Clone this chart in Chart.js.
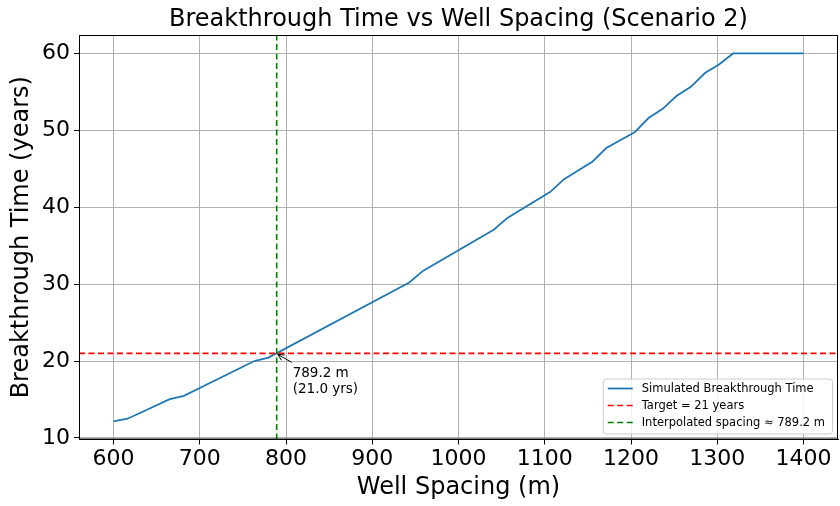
<!DOCTYPE html>
<html>
<head>
<meta charset="utf-8">
<script src="https://cdn.jsdelivr.net/npm/chart.js@4/dist/chart.umd.min.js"></script>
<style>
  html, body { margin: 0; padding: 0; background: #fff; }
  #wrap { width: 840px; height: 506px; }
</style>
</head>
<body>
<div id="wrap"><canvas id="btChart" width="840" height="506"></canvas></div>
<script>
// Simulated breakthrough time vs well spacing (points where the curve changes slope)
const spacing = [600, 616.3, 665.3, 681.6, 763.3, 779.6, 942.9, 959.2, 1040.8, 1057.1,
                 1106.1, 1122.4, 1155.1, 1171.4, 1204.1, 1220.4, 1236.7, 1253.1, 1269.4,
                 1285.7, 1302.0, 1318.4, 1400];
const breakthrough = [12.15, 12.5, 15.05, 15.47, 20.0, 20.45, 30.22, 31.76, 37.08, 38.65,
                      41.97, 43.65, 45.9, 47.7, 49.75, 51.6, 52.8, 54.5, 55.66,
                      57.45, 58.57, 60, 60];

const targetYears = 21;
const interpSpacing = 789.2;
const interpYears = 21.0;

const xTicks = [600, 700, 800, 900, 1000, 1100, 1200, 1300, 1400];
const yTicks = [10, 20, 30, 40, 50, 60];
const xRange = [560, 1440];
const yRange = [9.8, 62.4];

const seriesLabels = ['Simulated Breakthrough Time', 'Target = 21 years', 'Interpolated spacing \u2248 789.2 m'];
const FONT = "'DejaVu Sans', sans-serif";

const curve = spacing.map((s, i) => ({ x: s, y: breakthrough[i] }));

// title, frame, annotation and legend drawn on top of the chart
const decorations = {
    id: 'decorations',
    afterDraw(chart) {
        const ctx = chart.ctx;
        const area = chart.chartArea;
        const xs = chart.scales.x, ys = chart.scales.y;
        ctx.save();

        // frame
        ctx.strokeStyle = '#000';
        ctx.lineWidth = 1;
        ctx.strokeRect(area.left + 0.5, area.top + 0.5, area.right - area.left - 1, area.bottom - area.top - 1);

        // title
        ctx.fillStyle = '#000';
        ctx.font = '24px ' + FONT;
        ctx.textAlign = 'center';
        ctx.textBaseline = 'middle';
        ctx.fillText('Breakthrough Time vs Well Spacing (Scenario 2)', (area.left + area.right) / 2, 20);

        // annotation with arrow
        const px = xs.getPixelForValue(interpSpacing);
        const py = ys.getPixelForValue(interpYears);
        const tx = px + 16, ty = py + 9;
        ctx.strokeStyle = '#000';
        ctx.lineWidth = 1;
        ctx.beginPath();
        ctx.moveTo(tx - 1, ty);
        ctx.lineTo(px + 1, py + 1);
        ctx.stroke();
        const ang = Math.atan2(ty - py, tx - 1 - px);
        ctx.beginPath();
        ctx.moveTo(px + 1 + 7 * Math.cos(ang + 0.45), py + 1 + 7 * Math.sin(ang + 0.45));
        ctx.lineTo(px + 1, py + 1);
        ctx.lineTo(px + 1 + 7 * Math.cos(ang - 0.45), py + 1 + 7 * Math.sin(ang - 0.45));
        ctx.stroke();
        ctx.font = '13.5px ' + FONT;
        ctx.textAlign = 'left';
        ctx.textBaseline = 'alphabetic';
        ctx.fillText(interpSpacing.toFixed(1) + ' m', tx, ty + 15);
        ctx.fillText('(' + interpYears.toFixed(1) + ' yrs)', tx, ty + 31);

        // legend
        ctx.font = '11.5px ' + FONT;
        const textW = Math.max(...seriesLabels.map(t => ctx.measureText(t).width));
        const boxW = 5 + 25 + 9 + textW + 7;
        const boxH = 55;
        const bx = area.right - 6 - boxW;
        const by = area.bottom - 6 - boxH;
        ctx.fillStyle = 'rgba(255,255,255,0.8)';
        ctx.strokeStyle = '#cccccc';
        ctx.beginPath();
        ctx.roundRect(bx + 0.5, by + 0.5, boxW, boxH, 3);
        ctx.fill();
        ctx.stroke();
        chart.data.datasets.forEach((ds, i) => {
            const ry = by + 10 + i * 17;
            ctx.strokeStyle = ds.borderColor;
            ctx.lineWidth = ds.borderWidth;
            ctx.setLineDash(ds.borderDash || []);
            ctx.beginPath();
            ctx.moveTo(bx + 5, ry);
            ctx.lineTo(bx + 30, ry);
            ctx.stroke();
            ctx.setLineDash([]);
            ctx.fillStyle = '#000';
            ctx.textBaseline = 'middle';
            ctx.fillText(seriesLabels[i], bx + 39, ry + 0.5);
        });
        ctx.restore();
    }
};

new Chart(document.getElementById('btChart').getContext('2d'), {
    type: 'line',
    data: {
        datasets: [{
            label: seriesLabels[0],
            data: curve,
            borderColor: '#1f77b4',
            borderWidth: 1.8,
            pointRadius: 0,
            tension: 0,
            order: 3
        }, {
            label: seriesLabels[1],
            data: [{ x: xRange[0], y: targetYears }, { x: xRange[1], y: targetYears }],
            borderColor: '#ff0000',
            borderWidth: 1.6,
            borderDash: [6, 3.5],
            pointRadius: 0,
            order: 2
        }, {
            label: seriesLabels[2],
            data: [{ x: interpSpacing, y: yRange[0] }, { x: interpSpacing, y: yRange[1] }],
            borderColor: '#008000',
            borderWidth: 1.6,
            borderDash: [6, 3.5],
            pointRadius: 0,
            order: 1
        }]
    },
    options: {
        responsive: false,
        animation: false,
        layout: { padding: { top: 35, right: 2, left: 0, bottom: 0 } },
        plugins: {
            legend: { display: false },
            tooltip: { enabled: false },
            title: { display: false }
        },
        scales: {
            x: {
                type: 'linear',
                min: xRange[0],
                max: xRange[1],
                afterBuildTicks: s => { s.ticks = xTicks.map(v => ({ value: v })); },
                afterFit: s => { s.height = 66.5; },
                grid: { color: '#b0b0b0', lineWidth: 1, tickColor: '#000', tickLength: 5 },
                border: { color: '#000', width: 1 },
                ticks: { color: '#000', font: { family: FONT, size: 22 }, padding: 2, maxRotation: 0,
                         callback: v => String(v) },
                title: { display: true, text: 'Well Spacing (m)', color: '#000',
                         font: { family: FONT, size: 24 }, padding: { top: 0, bottom: 4 } }
            },
            y: {
                type: 'linear',
                min: yRange[0],
                max: yRange[1],
                afterBuildTicks: s => { s.ticks = yTicks.map(v => ({ value: v })); },
                afterFit: s => { s.width = 79; },
                grid: { color: '#b0b0b0', lineWidth: 1, tickColor: '#000', tickLength: 5 },
                border: { color: '#000', width: 1 },
                ticks: { color: '#000', font: { family: FONT, size: 22 }, padding: 4,
                         callback: v => String(v) },
                title: { display: true, text: 'Breakthrough Time (years)', color: '#000',
                         font: { family: FONT, size: 24 }, padding: { top: 7.5, bottom: 0 } }
            }
        }
    },
    plugins: [decorations]
});
</script>
</body>
</html>
